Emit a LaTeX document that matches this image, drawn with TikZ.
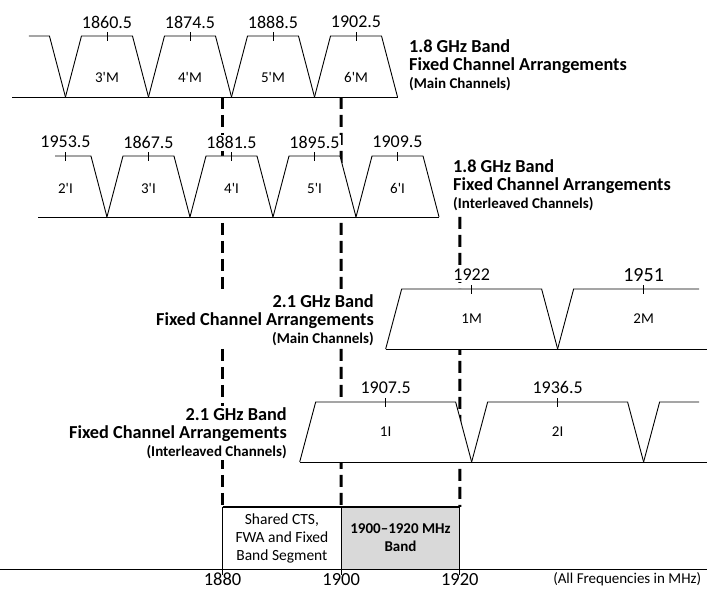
\documentclass[tikz,border=0pt]{standalone}
\usepackage{fontspec}
\setmainfont{Carlito}
\usepackage{tikz}
\usetikzlibrary{positioning}
\definecolor{bandfill}{RGB}{217,217,217}

\begin{document}
\begin{tikzpicture}[x=5.93pt, y=1pt,
    chan/.style={draw=black, line width=0.9pt, fill=white},
    axisline/.style={line width=0.9pt},
    guide/.style={line width=3pt, dash pattern=on 12pt off 6pt},
    freq/.style={fill=white, inner sep=1pt, font=\fontsize{18}{20}\selectfont},
    cname/.style={font=\fontsize{15}{17}\selectfont},
    title/.style={fill=white, inner sep=1pt, font=\fontsize{18.3}{18}\selectfont\bfseries},
    seg/.style={draw=black, line width=0.8pt, outer sep=0pt, minimum width=118.6pt,
      minimum height=62pt, align=center, font=\fontsize{15.5}{18}\selectfont}]
  \useasboundingbox (-37.54,0) rectangle (81.69,590);
  % band segments and axis
  \node[seg, anchor=south west] (shared) at (0,21)
    {Shared CTS,\\FWA and Fixed\\Band Segment};
  \node[seg, fill=bandfill, font=\fontsize{15}{18}\selectfont\bfseries,
    right=0pt of shared] (band) {1900--1920 MHz\\Band};
  \draw[axisline] (-37.54,21) -- (81.69,21);
  \foreach \c/\f in {0/1880, 20/1900, 40/1920} {
    \draw[axisline] (\c,21) -- (\c,15);
    \node[font=\fontsize{18.5}{20}\selectfont, inner sep=1pt] (ax\f) at (\c,10.5) {\f};
  }
  \node[cname, anchor=east, inner sep=1pt] (units) at (80.9,10.5) {(All Frequencies in MHz)};
  % guides
  \coordinate (g1880) at (0,493);
  \coordinate (g1900) at (20,493);
  \coordinate (g1920) at (40,373);
  \draw[guide] (g1880) -- (shared.north west);
  \draw[guide] (g1900) -- (band.north west);
  \draw[guide] (g1920) -- (band.north east);
  \draw[line width=2.5pt] (shared.north west) -- (band.north east);
  % 1.8 GHz band, main channels
  \begin{scope}[yshift=493pt]
    \draw[chan] (-32.65,61) -- (-29.2,61) -- (-26.5,0);
    \foreach \c/\f/\n [count=\i] in {-19.5/1860.5/3, -5.5/1874.5/4, 8.5/1888.5/5, 22.5/1902.5/6} {
      \draw[chan] (\c-7,0) -- (\c-4.3,61) -- (\c+4.3,61) -- (\c+7,0);
      \draw[axisline] (\c,56) -- (\c,65);
      \node[freq] (mf\i) at (\c,75) {\f};
      \node[cname] (m\i) at (\c,20) {\n\textquotesingle M};
    }
    \draw[axisline] (-35.5,0) -- (29.5,0);
  \end{scope}
  % 1.8 GHz band, interleaved channels
  \begin{scope}[yshift=373pt]
    \draw[chan] (-28.26,61) -- (-22.2,61) -- (-19.5,0);
    \draw[axisline] (-26.5,56) -- (-26.5,65);
    \node[freq] (if2) at (-26.5,75) {1953.5};
    \node[cname] (i2) at (-26.5,29) {2\textquotesingle I};
    \foreach \c/\f/\n in {-12.5/1867.5/3, 1.5/1881.5/4, 15.5/1895.5/5, 29.5/1909.5/6} {
      \draw[chan] (\c-7,0) -- (\c-4.3,61) -- (\c+4.3,61) -- (\c+7,0);
      \draw[axisline] (\c,56) -- (\c,65);
      \node[freq] (if\n) at (\c,75) {\f};
      \node[cname] (i\n) at (\c,29) {\n\textquotesingle I};
    }
    \draw[axisline] (-31.1,0) -- (36.5,0);
  \end{scope}
  % 2.1 GHz band, main channels
  \begin{scope}[yshift=241pt]
    \draw[chan] (27.5,0) -- (30.2,60) -- (53.8,60) -- (56.5,0);
    \draw[chan] (56.5,0) -- (59.2,60) -- (80.34,60);
    \draw[axisline] (42,55) -- (42,64) (71,55) -- (71,64);
    \node[freq] (mf1) at (42,74) {1922};
    \node[freq, font=\fontsize{20}{22}\selectfont] (mf2) at (71,74) {1951};
    \node[cname] (m1) at (42,30) {1M};
    \node[cname] (m2) at (71,30) {2M};
    \draw[axisline] (27.5,0) -- (81.69,0);
  \end{scope}
  % 2.1 GHz band, interleaved channels
  \begin{scope}[yshift=128pt]
    \foreach \c/\f/\n in {27.5/1907.5/1, 56.5/1936.5/2} {
      \draw[chan] (\c-14.5,0) -- (\c-11.8,60) -- (\c+11.8,60) -- (\c+14.5,0);
      \draw[axisline] (\c,55) -- (\c,64);
      \node[freq] (if\n) at (\c,74) {\f};
      \node[cname] (i\n) at (\c,30) {\n I};
    }
    \draw[chan] (71,0) -- (73.7,60) -- (80.34,60);
    \draw[axisline] (13,0) -- (81.69,0);
  \end{scope}
  % titles
  \node[title, anchor=west, align=left] (t18m) at (31.26,525)
    {1.8 GHz Band\\Fixed Channel Arrangements\\{\fontsize{15}{18}\selectfont (Main Channels)}};
  \node[title, anchor=west, align=left] (t18i) at (38.68,405)
    {1.8 GHz Band\\Fixed Channel Arrangements\\{\fontsize{15}{18}\selectfont (Interleaved Channels)}};
  \node[title, anchor=east, align=right] (t21m) at (25.7,270)
    {2.1 GHz Band\\Fixed Channel Arrangements\\{\fontsize{15}{18}\selectfont (Main Channels)}};
  \node[title, anchor=east, align=right] (t21i) at (11.03,157)
    {2.1 GHz Band\\Fixed Channel Arrangements\\{\fontsize{15}{18}\selectfont (Interleaved Channels)}};
\end{tikzpicture}
\end{document}
